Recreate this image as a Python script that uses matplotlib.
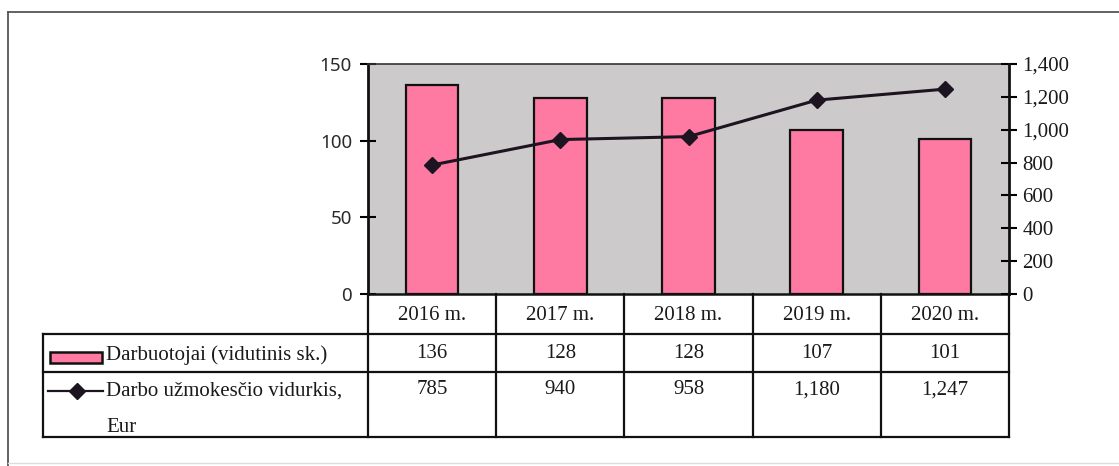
import matplotlib
matplotlib.use('Agg')
import matplotlib.pyplot as plt
from matplotlib.transforms import blended_transform_factory
from matplotlib.patches import Rectangle
from matplotlib.lines import Line2D
from matplotlib.ticker import FuncFormatter

# ---- data ----
years = ['2016 m.', '2017 m.', '2018 m.', '2019 m.', '2020 m.']
employees = [136, 128, 128, 107, 101]
salary = [785, 940, 958, 1180, 1247]
employees_label = 'Darbuotojai (vidutinis sk.)'
salary_label_lines = ['Darbo užmokesčio vidurkis,', 'Eur']
left_ticks = [0, 50, 100, 150]
right_ticks = [0, 200, 400, 600, 800, 1000, 1200, 1400]

# ---- style ----
plt.rcParams['font.family'] = ['Liberation Serif', 'DejaVu Serif']
BAR_COLOR = '#FF7AA3'
BG_COLOR = '#CDCACB'
LINE_COLOR = '#1c1420'
INK = '#1a1a1a'

W, H = 1119, 466
fig = plt.figure(figsize=(W / 100, H / 100), dpi=100)


def fx(px):
    return px / W


def fy(py):
    return 1 - py / H


L, R, T, B = 368, 1009, 64, 294
ax = fig.add_axes([fx(L), fy(B), (R - L) / W, (B - T) / H])
ax.set_facecolor(BG_COLOR)
xs = list(range(len(years)))
ax.bar(xs, employees, width=0.41, color=BAR_COLOR, edgecolor='#111111',
       linewidth=1.6, zorder=2)
ax.set_xlim(-0.5, len(years) - 0.5)
ax.set_ylim(left_ticks[0], left_ticks[-1])
ax.set_yticks(left_ticks)
ax.set_xticks([])
ax.tick_params(axis='y', direction='inout', length=11, width=1.5,
               labelsize=13.5, pad=6, labelcolor='#2a2a2a',
               labelfontfamily='Noto Sans')

ax2 = ax.twinx()
ax2.plot(xs, salary, color=LINE_COLOR, lw=2.2, marker='D', ms=8,
         zorder=3)
ax2.set_ylim(right_ticks[0], right_ticks[-1])
ax2.set_yticks(right_ticks)
ax2.yaxis.set_major_formatter(FuncFormatter(lambda v, p: f'{int(v):,}'))
ax2.tick_params(axis='y', direction='inout', length=11, width=1.5,
                labelsize=15, pad=4, labelcolor=INK)

ax.spines['right'].set_visible(False)
for sp in ['left', 'top', 'bottom']:
    ax2.spines[sp].set_visible(False)
ax.spines['left'].set_linewidth(2)
ax.spines['left'].set_color('#111111')
ax.spines['top'].set_linewidth(1.2)
ax.spines['top'].set_color('#333333')
ax.spines['bottom'].set_linewidth(1.8)
ax.spines['bottom'].set_color('#111111')
ax2.spines['right'].set_linewidth(2)
ax2.spines['right'].set_color('#111111')

# ---- data table ----
trans = blended_transform_factory(ax.transData, fig.transFigure)
tbl_left = 43
row_hdr_bot, row1_bot, row2_bot = 334, 372, 437
lw_t = 1.6
for i in range(len(years) + 1):
    fig.add_artist(Line2D([i - 0.5, i - 0.5], [fy(B), fy(row2_bot)],
                          transform=trans, color='#111111', lw=lw_t))
for yy in (row_hdr_bot, row1_bot, row2_bot):
    fig.add_artist(Line2D([fx(tbl_left), fx(R)], [fy(yy), fy(yy)],
                          transform=fig.transFigure, color='#111111', lw=lw_t))
fig.add_artist(Line2D([fx(tbl_left), fx(tbl_left)], [fy(row_hdr_bot), fy(row2_bot)],
                      transform=fig.transFigure, color='#111111', lw=lw_t))

for i, yr in enumerate(years):
    fig.text(i, fy(315), yr, transform=trans, ha='center', va='center',
             fontsize=15, color=INK)
    fig.text(i, fy(353), f'{employees[i]:,}', transform=trans, ha='center',
             va='center', fontsize=15, color=INK)
    fig.text(i, fy(390), f'{salary[i]:,}', transform=trans, ha='center',
             va='center', fontsize=15, color=INK)

# legend keys
fig.add_artist(Rectangle((fx(50), fy(363)), (102 - 50) / W, 11 / H,
                         transform=fig.transFigure, facecolor=BAR_COLOR,
                         edgecolor='#111111', lw=1.8))
fig.add_artist(Line2D([fx(48), fx(103)], [fy(391), fy(391)],
                      transform=fig.transFigure, color=LINE_COLOR, lw=1.6))
fig.add_artist(Line2D([fx(77)], [fy(391)], transform=fig.transFigure,
                      color=LINE_COLOR, marker='D', ms=8, lw=0))
fig.text(fx(106), fy(355), employees_label, ha='left', va='center',
         fontsize=15, color=INK)
for k, line in enumerate(salary_label_lines):
    fig.text(fx(106), fy(391 + 36 * k), line, ha='left', va='center',
             fontsize=15, color=INK)

# outer frame
fig.add_artist(Line2D([fx(8), fx(8)], [fy(12), fy(466)],
                      transform=fig.transFigure, color='#555555', lw=1.3))
fig.add_artist(Line2D([fx(8), fx(1119)], [fy(12), fy(12)],
                      transform=fig.transFigure, color='#555555', lw=1.3))
fig.add_artist(Line2D([fx(8), fx(1119)], [fy(463), fy(463)],
                      transform=fig.transFigure, color='#dddddd', lw=1.0))

fig.savefig('out.png', dpi=100, facecolor='white')
